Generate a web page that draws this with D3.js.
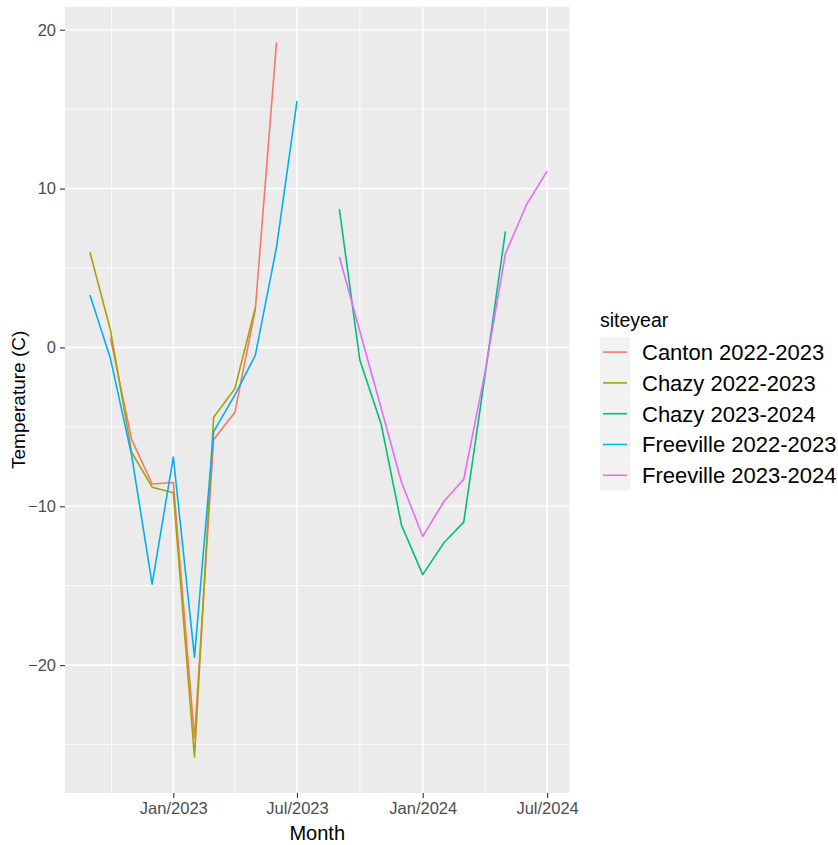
<!DOCTYPE html>
<html><head><meta charset="utf-8">
<script src="https://cdn.jsdelivr.net/npm/d3@7"></script>
<style>body{margin:0;background:#fff}svg text{font-family:"Liberation Sans",Arial,sans-serif}</style>
</head><body><svg id="c" width="838" height="845"></svg>
<script>
// ---- data ----
const seriesNames = ["Canton 2022-2023","Chazy 2022-2023","Chazy 2023-2024","Freeville 2022-2023","Freeville 2023-2024"];
const seriesColors = ["#F8766D","#A3A500","#00BF7D","#00B0F6","#E76BF3"];

const canton2223Months = ["2022-10-01","2022-11-01","2022-12-01","2023-01-01","2023-02-01","2023-03-01","2023-04-01","2023-05-01","2023-06-01"];
const canton2223Temp   = [0.6, -5.8, -8.6, -8.5, -24.6, -5.8, -4.1, 2.4, 19.2];

const chazy2223Months = ["2022-09-01","2022-10-01","2022-11-01","2022-12-01","2023-01-01","2023-02-01","2023-03-01","2023-04-01","2023-05-01"];
const chazy2223Temp   = [6.0, 1.1, -6.6, -8.8, -9.15, -25.8, -4.4, -2.6, 2.5];

const chazy2324Months = ["2023-09-01","2023-10-01","2023-11-01","2023-12-01","2024-01-01","2024-02-01","2024-03-01","2024-04-01","2024-05-01"];
const chazy2324Temp   = [8.7, -0.8, -4.8, -11.2, -14.3, -12.3, -11.0, -1.8, 7.3];

const freeville2223Months = ["2022-09-01","2022-10-01","2022-11-01","2022-12-01","2023-01-01","2023-02-01","2023-03-01","2023-04-01","2023-05-01","2023-06-01","2023-07-01"];
const freeville2223Temp   = [3.3, -0.7, -6.8, -14.9, -6.9, -19.5, -5.3, -3.0, -0.5, 6.3, 15.5];

const freeville2324Months = ["2023-09-01","2023-10-01","2023-11-01","2023-12-01","2024-01-01","2024-02-01","2024-03-01","2024-04-01","2024-05-01","2024-06-01","2024-07-01"];
const freeville2324Temp   = [5.7, 1.0, -3.8, -8.5, -11.9, -9.7, -8.3, -1.6, 5.9, 9.0, 11.1];

const xTickDates = ["2023-01-01","2023-07-01","2024-01-01","2024-07-01"];
const yTickValues = [-20, -10, 0, 10, 20];
const xDomainDates = ["2022-07-26T12:00:00Z","2024-08-02T19:00:00Z"];

// ---- build ----
const parse = s => new Date(s.length === 10 ? s + "T00:00:00Z" : s);
const seriesMonths = [canton2223Months, chazy2223Months, chazy2324Months, freeville2223Months, freeville2324Months];
const seriesTemps  = [canton2223Temp, chazy2223Temp, chazy2324Temp, freeville2223Temp, freeville2324Temp];
const series = seriesNames.map((name, i) => ({
  name, color: seriesColors[i],
  values: seriesMonths[i].map((m, j) => ({date: parse(m), temp: seriesTemps[i][j]}))
}));

const svg = d3.select("#c");
const P = {left: 65, right: 569.5, top: 6.7, bottom: 793};

const x = d3.scaleUtc().domain(xDomainDates.map(parse)).range([P.left, P.right]);
const allT = seriesTemps.flat();
const [tmin, tmax] = d3.extent(allT);
const pad = (tmax - tmin) * 0.05;
const y = d3.scaleLinear().domain([tmin - pad, tmax + pad]).range([P.bottom, P.top]);

// panel
svg.append("rect").attr("x", P.left).attr("y", P.top)
  .attr("width", P.right - P.left).attr("height", P.bottom - P.top).attr("fill", "#EBEBEB");

const g = svg.append("g");
// minor grid
const xMajor = xTickDates.map(parse);
const xMinor = [];
const step = xMajor[1] - xMajor[0];
const xm = [new Date(+xMajor[0] - step), ...xMajor, new Date(+xMajor[xMajor.length-1] + step)];
for (let i = 0; i < xm.length - 1; i++) {
  const mid = new Date((+xm[i] + +xm[i+1]) / 2);
  if (mid >= x.domain()[0] && mid <= x.domain()[1]) xMinor.push(mid);
}
const yMinor = [];
const ym = [yTickValues[0]-10, ...yTickValues, yTickValues[yTickValues.length-1]+10];
for (let i = 0; i < ym.length - 1; i++) {
  const mid = (ym[i] + ym[i+1]) / 2;
  if (mid >= y.domain()[0] && mid <= y.domain()[1]) yMinor.push(mid);
}
g.selectAll(".xmin").data(xMinor).join("line")
  .attr("x1", d => x(d)).attr("x2", d => x(d)).attr("y1", P.top).attr("y2", P.bottom)
  .attr("stroke", "#fff").attr("stroke-width", 0.8);
g.selectAll(".ymin").data(yMinor).join("line")
  .attr("y1", d => y(d)).attr("y2", d => y(d)).attr("x1", P.left).attr("x2", P.right)
  .attr("stroke", "#fff").attr("stroke-width", 0.8);
g.selectAll(".xmaj").data(xMajor).join("line")
  .attr("x1", d => x(d)).attr("x2", d => x(d)).attr("y1", P.top).attr("y2", P.bottom)
  .attr("stroke", "#fff").attr("stroke-width", 1.55);
g.selectAll(".ymaj").data(yTickValues).join("line")
  .attr("y1", d => y(d)).attr("y2", d => y(d)).attr("x1", P.left).attr("x2", P.right)
  .attr("stroke", "#fff").attr("stroke-width", 1.55);

// lines
const line = d3.line().x(d => x(d.date)).y(d => y(d.temp));
svg.append("g").selectAll("path").data(series).join("path")
  .attr("d", d => line(d.values)).attr("fill", "none")
  .attr("stroke", d => d.color).attr("stroke-width", 1.6)
  .attr("stroke-linejoin", "round");

// axes
const fmt = d3.utcFormat("%b/%Y");
const xAxis = svg.append("g").attr("transform", `translate(0,${P.bottom})`)
  .call(d3.axisBottom(x).tickValues(xMajor).tickFormat(fmt).tickSize(5).tickPadding(4));
const yAxis = svg.append("g").attr("transform", `translate(${P.left},0)`)
  .call(d3.axisLeft(y).tickValues(yTickValues).tickSize(5).tickPadding(4));
[xAxis, yAxis].forEach(a => {
  a.select(".domain").remove();
  a.selectAll(".tick line").attr("stroke", "#333").attr("stroke-width", 1.1);
  a.selectAll(".tick text").attr("fill", "#4D4D4D").style("font-size", "16.5px")
    .style("font-family", '"Liberation Sans",Arial,sans-serif');
});

// axis titles
svg.append("text").attr("x", (P.left + P.right) / 2).attr("y", 840)
  .attr("text-anchor", "middle").style("font-size", "20px").attr("fill", "#000").text("Month");
svg.append("text").attr("transform", `translate(25,${(P.top + P.bottom) / 2}) rotate(-90)`)
  .attr("text-anchor", "middle").style("font-size", "19px").attr("fill", "#000").text("Temperature (C)");

// legend
const L = {x: 600, y: 336.7, kw: 30, kh: 30.8};
const leg = svg.append("g");
leg.append("text").attr("x", L.x).attr("y", 327).style("font-size", "19.5px").attr("fill", "#000").text("siteyear");
const items = leg.selectAll(".it").data(series).join("g")
  .attr("transform", (d, i) => `translate(${L.x},${L.y + i * L.kh})`);
items.append("rect").attr("width", L.kw).attr("height", L.kh).attr("fill", "#F2F2F2");
items.append("line").attr("x1", 3).attr("x2", L.kw - 3).attr("y1", L.kh / 2).attr("y2", L.kh / 2)
  .attr("stroke", d => d.color).attr("stroke-width", 1.6);
items.append("text").attr("x", 42).attr("y", L.kh / 2).attr("dy", "0.36em")
  .style("font-size", "22px").attr("fill", "#000").text(d => d.name);
</script></body></html>
